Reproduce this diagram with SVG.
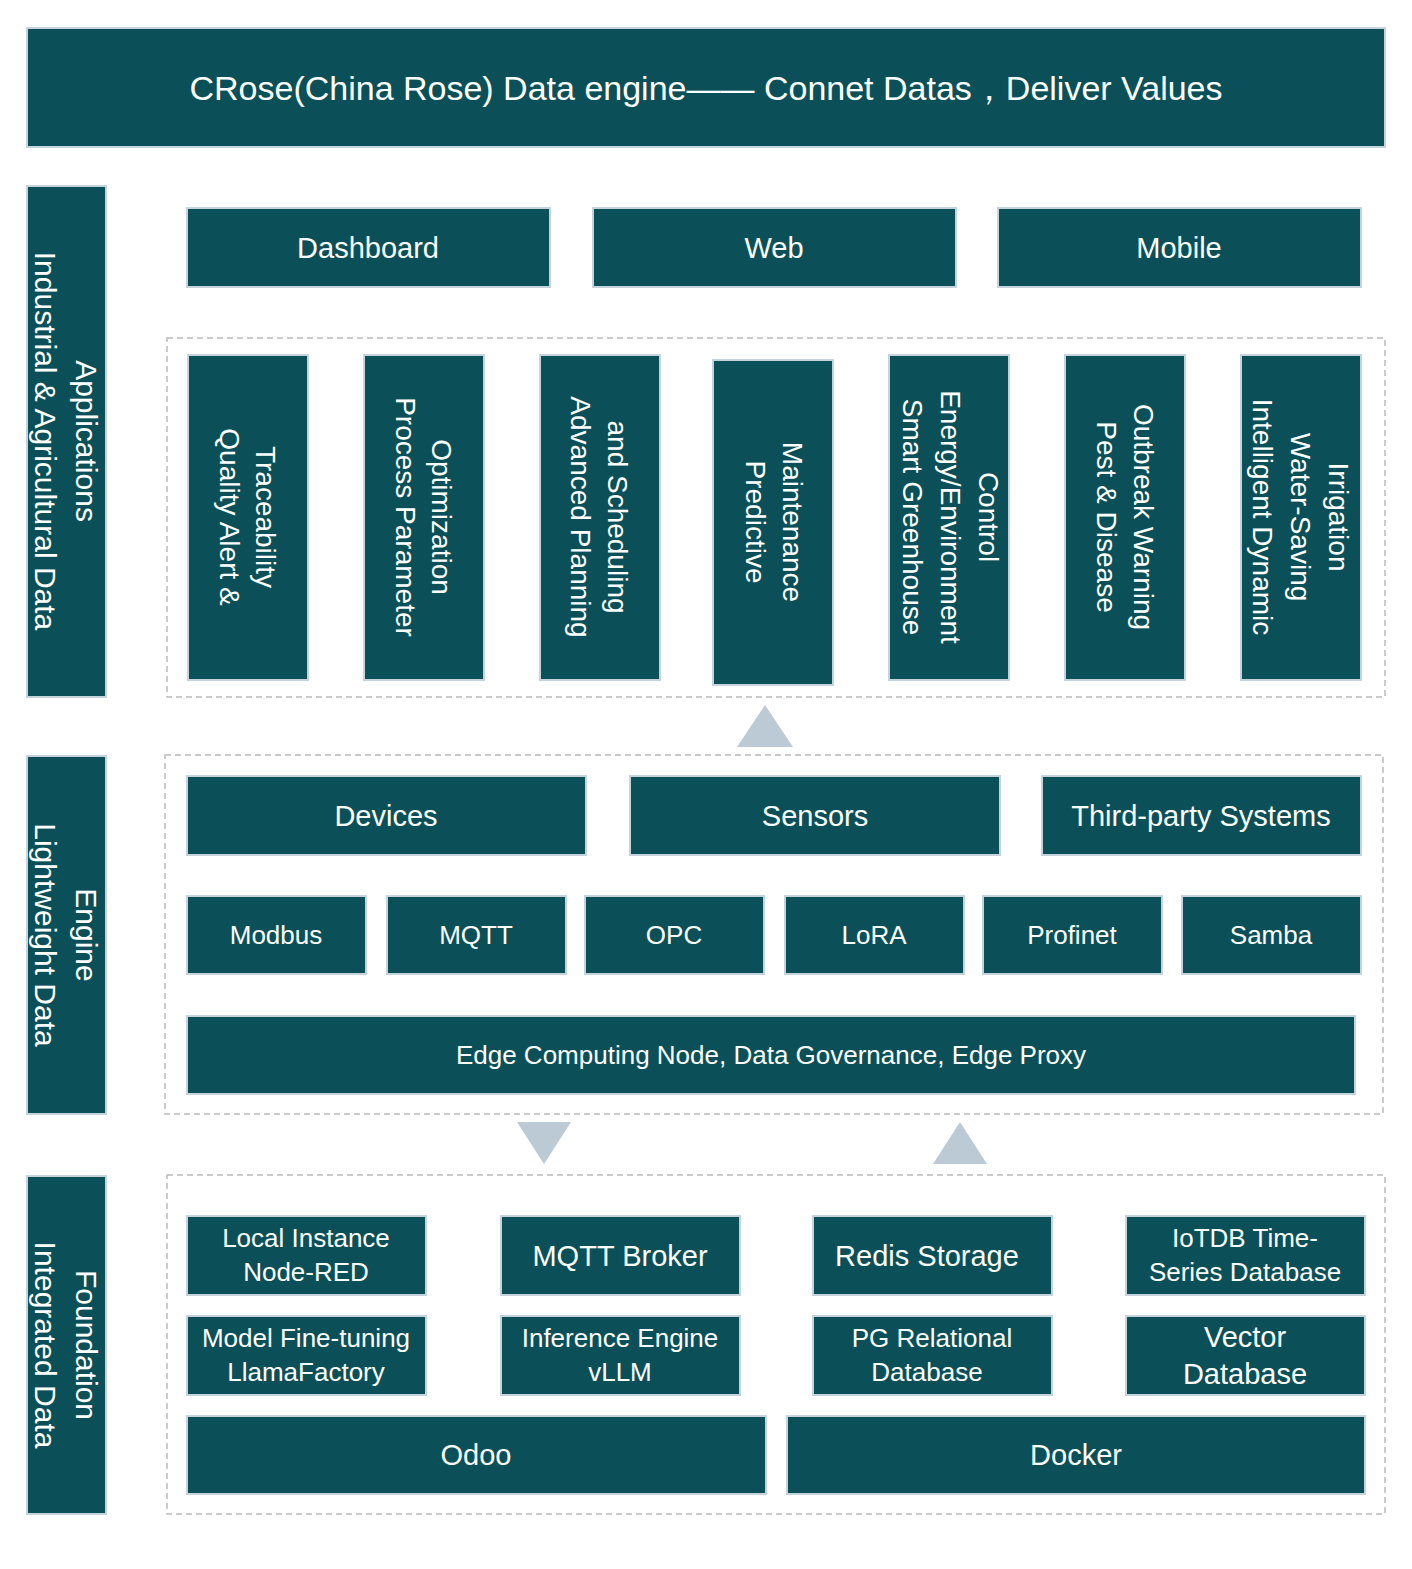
<svg xmlns="http://www.w3.org/2000/svg" width="1412" height="1569" viewBox="0 0 1412 1569">
<style>
.b{fill:#0b5058;stroke:#c5d3dc;stroke-width:2}
.t{fill:#fff;font-family:"Liberation Sans",Arial,sans-serif;text-anchor:middle;dominant-baseline:central}
.d{fill:none;stroke:#bbb;stroke-width:1.5;stroke-dasharray:6,4}
.a{fill:#bccad6}
</style>
<rect width="1412" height="1569" fill="#fff"/>
<g id="title"><rect class="b" x="27" y="28" width="1358" height="119"/><text class="t" x="706" y="88" font-size="34">CRose(China Rose) Data engine—— Connet Datas，Deliver Values</text></g>
<g id="frames"><rect class="d" x="167" y="338" width="1218" height="359"/><rect class="d" x="165" y="755" width="1218" height="359"/><rect class="d" x="167" y="1175" width="1218" height="339"/></g>
<g id="side-app"><rect class="b" x="27" y="186" width="79" height="511"/><text class="t" font-size="30" transform="translate(86,441) rotate(90)">Applications</text><text class="t" font-size="30" transform="translate(45,441) rotate(90)">Industrial &amp; Agricultural Data</text></g>
<g id="side-engine"><rect class="b" x="27" y="756" width="79" height="358"/><text class="t" font-size="30" transform="translate(86,935) rotate(90)">Engine</text><text class="t" font-size="30" transform="translate(45,935) rotate(90)">Lightweight Data</text></g>
<g id="side-found"><rect class="b" x="27" y="1176" width="79" height="338"/><text class="t" font-size="30" transform="translate(86,1345) rotate(90)">Foundation</text><text class="t" font-size="30" transform="translate(45,1345) rotate(90)">Integrated Data</text></g>
<g id="dashboard"><rect class="b" x="187" y="208" width="363" height="79"/><text class="t" x="368" y="248" font-size="29">Dashboard</text></g>
<g id="web"><rect class="b" x="593" y="208" width="363" height="79"/><text class="t" x="774" y="248" font-size="29">Web</text></g>
<g id="mobile"><rect class="b" x="998" y="208" width="363" height="79"/><text class="t" x="1179" y="248" font-size="29">Mobile</text></g>
<g id="app1"><rect class="b" x="188" y="355" width="120" height="325"/><text class="t" font-size="28" transform="translate(265,517) rotate(90)">Traceability</text><text class="t" font-size="28" transform="translate(229,517) rotate(90)">Quality Alert &amp;</text></g>
<g id="app2"><rect class="b" x="364" y="355" width="120" height="325"/><text class="t" font-size="28" transform="translate(441,517) rotate(90)">Optimization</text><text class="t" font-size="28" transform="translate(405,517) rotate(90)">Process Parameter</text></g>
<g id="app3"><rect class="b" x="540" y="355" width="120" height="325"/><text class="t" font-size="28" transform="translate(617,517) rotate(90)">and Scheduling</text><text class="t" font-size="28" transform="translate(580,517) rotate(90)">Advanced Planning</text></g>
<g id="app4"><rect class="b" x="713" y="360" width="120" height="325"/><text class="t" font-size="28" transform="translate(792,522) rotate(90)">Maintenance</text><text class="t" font-size="28" transform="translate(755,522) rotate(90)">Predictive</text></g>
<g id="app5"><rect class="b" x="889" y="355" width="120" height="325"/><text class="t" font-size="28" transform="translate(988,517) rotate(90)">Control</text><text class="t" font-size="28" transform="translate(950,517) rotate(90)">Energy/Environment</text><text class="t" font-size="28" transform="translate(912,517) rotate(90)">Smart Greenhouse</text></g>
<g id="app6"><rect class="b" x="1065" y="355" width="120" height="325"/><text class="t" font-size="28" transform="translate(1143,517) rotate(90)">Outbreak Warning</text><text class="t" font-size="28" transform="translate(1106,517) rotate(90)">Pest &amp; Disease</text></g>
<g id="app7"><rect class="b" x="1241" y="355" width="120" height="325"/><text class="t" font-size="28" transform="translate(1338,517) rotate(90)">Irrigation</text><text class="t" font-size="28" transform="translate(1300,517) rotate(90)">Water-Saving</text><text class="t" font-size="28" transform="translate(1262,517) rotate(90)">Intelligent Dynamic</text></g>
<g id="devices"><rect class="b" x="187" y="776" width="399" height="79"/><text class="t" x="386" y="816" font-size="29">Devices</text></g>
<g id="sensors"><rect class="b" x="630" y="776" width="370" height="79"/><text class="t" x="815" y="816" font-size="29">Sensors</text></g>
<g id="third"><rect class="b" x="1042" y="776" width="319" height="79"/><text class="t" x="1201" y="816" font-size="29">Third-party Systems</text></g>
<g id="modbus"><rect class="b" x="187" y="896" width="179" height="78"/><text class="t" x="276" y="935" font-size="26">Modbus</text></g>
<g id="mqtt"><rect class="b" x="387" y="896" width="179" height="78"/><text class="t" x="476" y="935" font-size="26">MQTT</text></g>
<g id="opc"><rect class="b" x="585" y="896" width="179" height="78"/><text class="t" x="674" y="935" font-size="26">OPC</text></g>
<g id="lora"><rect class="b" x="785" y="896" width="179" height="78"/><text class="t" x="874" y="935" font-size="26">LoRA</text></g>
<g id="profinet"><rect class="b" x="983" y="896" width="179" height="78"/><text class="t" x="1072" y="935" font-size="26">Profinet</text></g>
<g id="samba"><rect class="b" x="1182" y="896" width="179" height="78"/><text class="t" x="1271" y="935" font-size="26">Samba</text></g>
<g id="edge"><rect class="b" x="187" y="1016" width="1168" height="78"/><text class="t" x="771" y="1055" font-size="26">Edge Computing Node, Data Governance, Edge Proxy</text></g>
<g id="nodered"><rect class="b" x="187" y="1216" width="239" height="79"/><text class="t" x="306" y="1238" font-size="26">Local Instance</text><text class="t" x="306" y="1272" font-size="26">Node-RED</text></g>
<g id="broker"><rect class="b" x="501" y="1216" width="239" height="79"/><text class="t" x="620" y="1256" font-size="29">MQTT Broker</text></g>
<g id="redis"><rect class="b" x="813" y="1216" width="239" height="79"/><text class="t" x="927" y="1256" font-size="29">Redis Storage</text></g>
<g id="iotdb"><rect class="b" x="1126" y="1216" width="239" height="79"/><text class="t" x="1245" y="1238" font-size="26">IoTDB Time-</text><text class="t" x="1245" y="1272" font-size="26">Series Database</text></g>
<g id="llama"><rect class="b" x="187" y="1316" width="239" height="79"/><text class="t" x="306" y="1338" font-size="26">Model Fine-tuning</text><text class="t" x="306" y="1372" font-size="26">LlamaFactory</text></g>
<g id="vllm"><rect class="b" x="501" y="1316" width="239" height="79"/><text class="t" x="620" y="1338" font-size="26">Inference Engine</text><text class="t" x="620" y="1372" font-size="26">vLLM</text></g>
<g id="pg"><rect class="b" x="813" y="1316" width="239" height="79"/><text class="t" x="932" y="1338" font-size="26">PG Relational</text><text class="t" x="927" y="1372" font-size="26">Database</text></g>
<g id="vector"><rect class="b" x="1126" y="1316" width="239" height="79"/><text class="t" x="1245" y="1337" font-size="29">Vector</text><text class="t" x="1245" y="1374" font-size="29">Database</text></g>
<g id="odoo"><rect class="b" x="187" y="1416" width="579" height="78"/><text class="t" x="476" y="1455" font-size="29">Odoo</text></g>
<g id="docker"><rect class="b" x="787" y="1416" width="578" height="78"/><text class="t" x="1076" y="1455" font-size="29">Docker</text></g>
<g id="connectors"><polygon class="a" points="765,705 737,747 793,747"/><polygon class="a" points="517,1122 571,1122 544,1164"/><polygon class="a" points="960,1122 933,1164 987,1164"/></g>
</svg>
